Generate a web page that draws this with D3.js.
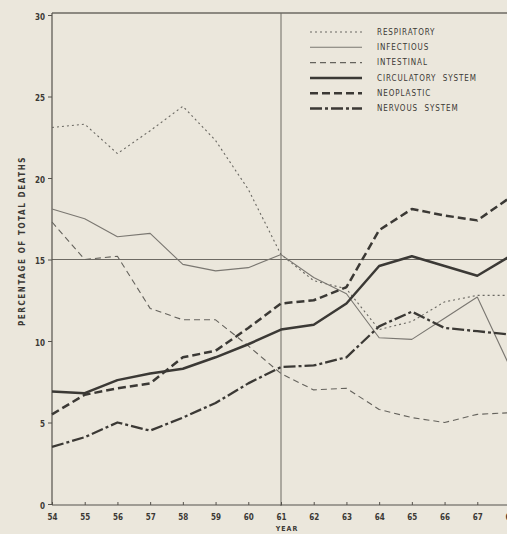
<!DOCTYPE html>
<html lang="en">

<head>
  <meta charset="UTF-8" />
  <script src="https://unpkg.com/d3@7/dist/d3.min.js"></script>
  <title>Causes of death</title>
  <style>
    body { margin: 0; background: #ebe7dc; }
    text { font-family: "DejaVu Sans Condensed", "DejaVu Sans", sans-serif; fill: #3b3935; }
  </style>
</head>

<body>
  <svg width="507" height="534"></svg>
  <script>
    // years 1954 - 1968
    const years = d3.range(54, 69);
    const respiratory = [23.1, 23.3, 21.5, 22.9, 24.4, 22.3, 19.3, 15.3, 13.7, 13.2, 10.7, 11.2, 12.4, 12.8, 12.8];
    const infectious = [18.1, 17.5, 16.4, 16.6, 14.7, 14.3, 14.5, 15.3, 13.9, 12.9, 10.2, 10.1, 11.4, 12.7, 8.4];
    const intestinal = [17.3, 15.0, 15.2, 12.0, 11.3, 11.3, 9.7, 8.0, 7.0, 7.1, 5.8, 5.3, 5.0, 5.5, 5.6];
    const circulatory = [6.9, 6.8, 7.6, 8.0, 8.3, 9.0, 9.8, 10.7, 11.0, 12.3, 14.6, 15.2, 14.6, 14.0, 15.2];
    const neoplastic = [5.5, 6.7, 7.1, 7.4, 9.0, 9.4, 10.8, 12.3, 12.5, 13.3, 16.8, 18.1, 17.7, 17.4, 18.8];
    const nervous = [3.5, 4.1, 5.0, 4.5, 5.3, 6.2, 7.4, 8.4, 8.5, 9.0, 10.9, 11.8, 10.8, 10.6, 10.4];
    const yTicks = [0, 5, 10, 15, 20, 25, 30];

    const series = [
      { name: "RESPIRATORY", values: respiratory, width: 1.1, dash: "2,3", color: "#6a6862" },
      { name: "INFECTIOUS", values: infectious, width: 1.1, dash: null, color: "#7a7771" },
      { name: "INTESTINAL", values: intestinal, width: 1.1, dash: "6,4", color: "#65635d" },
      { name: "CIRCULATORY  SYSTEM", values: circulatory, width: 2.5, dash: null, color: "#3b3935" },
      { name: "NEOPLASTIC", values: neoplastic, width: 2.5, dash: "8,4", color: "#3b3935" },
      { name: "NERVOUS  SYSTEM", values: nervous, width: 2.3, dash: "12,3,3,3", color: "#3b3935" }
    ];

    const svg = d3.select("svg");
    const x = d3.scaleLinear().domain([54, 68]).range([52, 510]);
    const y = d3.scaleLinear().domain([0, 30]).range([504, 15]);
    const yTop = y(30) - 2;

    // frame and cross lines
    const frame = svg.append("g").attr("stroke", "#6d6a63").attr("stroke-width", 1);
    frame.append("line").attr("x1", x(54)).attr("x2", 507).attr("y1", yTop).attr("y2", yTop).attr("stroke-width", 1.5);
    frame.append("line").attr("x1", x(54)).attr("x2", 507).attr("y1", y(15)).attr("y2", y(15));
    frame.append("line").attr("x1", x(61)).attr("x2", x(61)).attr("y1", yTop).attr("y2", y(0) + 2);

    // y axis
    const yAxis = svg.append("g")
      .attr("transform", `translate(${x(54)},0)`)
      .call(d3.axisLeft(y).tickValues(yTicks).tickSize(4).tickPadding(3));
    yAxis.select(".domain").attr("stroke", "#55524c").attr("stroke-width", 1.2).attr("d", `M0,${yTop}V${y(0) + 1}`);
    yAxis.selectAll(".tick line").attr("stroke", "#55524c");
    yAxis.selectAll("text").attr("font-size", 8).attr("font-weight", "bold").attr("fill", "#4a4843")
      .attr("dy", "0.55em")
      .attr("font-family", "DejaVu Sans Condensed, DejaVu Sans, sans-serif");

    // x axis
    const xAxis = svg.append("g")
      .attr("transform", `translate(0,${y(0) + 1})`)
      .call(d3.axisBottom(x).tickValues(years).tickSize(-3).tickPadding(9).tickFormat(d => d));
    xAxis.select(".domain").attr("stroke", "#55524c").attr("stroke-width", 1.2).attr("d", `M${x(54)},0H507`);
    xAxis.selectAll(".tick line").attr("stroke", "#55524c");
    xAxis.selectAll("text").attr("font-size", 8).attr("font-weight", "bold").attr("fill", "#4a4843")
      .attr("font-family", "DejaVu Sans Condensed, DejaVu Sans, sans-serif");

    svg.append("text").attr("x", 287).attr("y", 531).attr("text-anchor", "middle")
      .attr("font-size", 7).attr("font-weight", "bold").attr("letter-spacing", 1).text("YEAR");

    svg.append("text")
      .attr("transform", "translate(25,241) rotate(-90)")
      .attr("text-anchor", "middle").attr("font-size", 8).attr("font-weight", "bold")
      .attr("letter-spacing", 1.6)
      .text("PERCENTAGE OF TOTAL DEATHS");

    // lines
    const line = d3.line().x((d, i) => x(years[i])).y(d => y(d));
    svg.append("g").selectAll("path")
      .data(series)
      .enter()
      .append("path")
      .attr("fill", "none")
      .attr("stroke", d => d.color)
      .attr("stroke-width", d => d.width)
      .attr("stroke-dasharray", d => d.dash)
      .attr("stroke-linejoin", "round")
      .attr("d", d => line(d.values));

    // legend
    const legend = svg.append("g").selectAll("g")
      .data(series)
      .enter()
      .append("g")
      .attr("transform", (d, i) => `translate(310,${32 + i * 15.3})`);
    legend.append("line")
      .attr("x1", 0).attr("x2", 52)
      .attr("stroke", d => d.color)
      .attr("stroke-width", d => d.width)
      .attr("stroke-dasharray", d => d.dash);
    legend.append("text")
      .attr("x", 67).attr("dy", "0.35em")
      .attr("font-size", 8).attr("letter-spacing", 0.9)
      .style("white-space", "pre")
      .text(d => d.name);
  </script>
</body>

</html>
